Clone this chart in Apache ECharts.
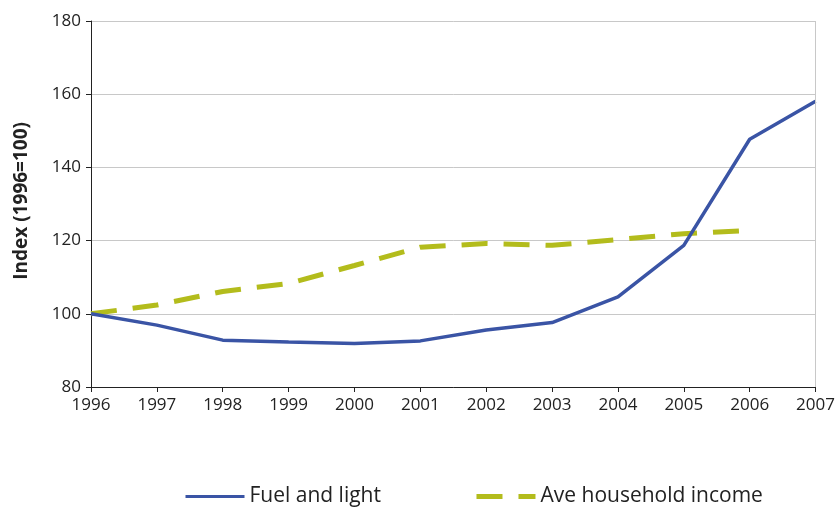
<!DOCTYPE html>
<html>
<head>
<meta charset="utf-8">
<script src="https://cdn.jsdelivr.net/npm/echarts@6/dist/echarts.min.js"></script>
<style>
  html, body { margin: 0; padding: 0; background: #fff; }
  #chart { width: 838px; height: 507px; }
</style>
</head>
<body>
<div id="chart"></div>
<script>
    // index, 1996 = 100
    var years = ['1996','1997','1998','1999','2000','2001','2002','2003','2004','2005','2006','2007'];
    var fuelLight = [100, 96.9, 92.8, 92.3, 91.9, 92.6, 95.6, 97.6, 104.6, 118.7, 147.7, 158.1];
    var householdIncome = [100, 102.4, 106.1, 108.3, 113.2, 118.2, 119.2, 118.7, 120.3, 121.9, 122.8, null];

    var fontFamily = '"Open Sans", "Noto Sans", sans-serif';
    var chart = echarts.init(document.getElementById('chart'), null, {renderer: 'canvas'});

    chart.setOption({
        animation: false,
        textStyle: { fontFamily: fontFamily },
        grid: { left: 91, right: 20, top: 21, bottom: 120 },
        legend: {
            top: 481,
            left: 179,
            itemWidth: 59,
            itemHeight: 14,
            itemGap: 93,
            itemStyle: { opacity: 0 },
            textStyle: { fontSize: 21, color: '#222', fontFamily: fontFamily },
            data: [
                { name: 'Fuel and light', lineStyle: { width: 3 } },
                { name: 'Ave household income', lineStyle: { width: 5 } }
            ]
        },
        graphic: [{
            type: 'text',
            left: 12,
            top: 122,
            rotation: Math.PI / 2,
            style: {
                text: 'Index (1996=100)',
                fontSize: 19,
                fontWeight: 'bold',
                fill: '#222',
                fontFamily: fontFamily
            }
        }],
        xAxis: {
            type: 'category',
            boundaryGap: false,
            data: years,
            axisLine: { lineStyle: { color: '#222', width: 1 } },
            axisTick: { show: true, length: 5, alignWithLabel: true, lineStyle: { color: '#222' } },
            axisLabel: { fontSize: 17, color: '#222', margin: 10 },
            splitLine: { show: false }
        },
        yAxis: {
            type: 'value',
            min: 80,
            max: 180,
            interval: 20,
            axisLine: { show: true, lineStyle: { color: '#222', width: 1 } },
            axisTick: { show: true, length: 5, lineStyle: { color: '#222' } },
            axisLabel: { fontSize: 17, color: '#222', margin: 10 },
            splitLine: { show: true, lineStyle: { color: '#c8c8c8', width: 1 } }
        },
        series: [{
            name: 'Fuel and light',
            type: 'line',
            data: fuelLight,
            symbol: 'none',
            lineStyle: { color: '#3a54a5', width: 3.5 },
            itemStyle: { color: '#3a54a5' },
            z: 3,
            markLine: {
                silent: true,
                symbol: 'none',
                label: { show: false },
                lineStyle: { color: '#c8c8c8', type: 'solid', width: 1 },
                data: [{ xAxis: '2007' }]
            }
        }, {
            name: 'Ave household income',
            type: 'line',
            data: householdIncome,
            symbol: 'none',
            lineStyle: { color: '#b3bc1c', width: 5, type: [26, 16] },
            itemStyle: { color: '#b3bc1c' },
            z: 2
        }]
    });
</script>
</body>
</html>
